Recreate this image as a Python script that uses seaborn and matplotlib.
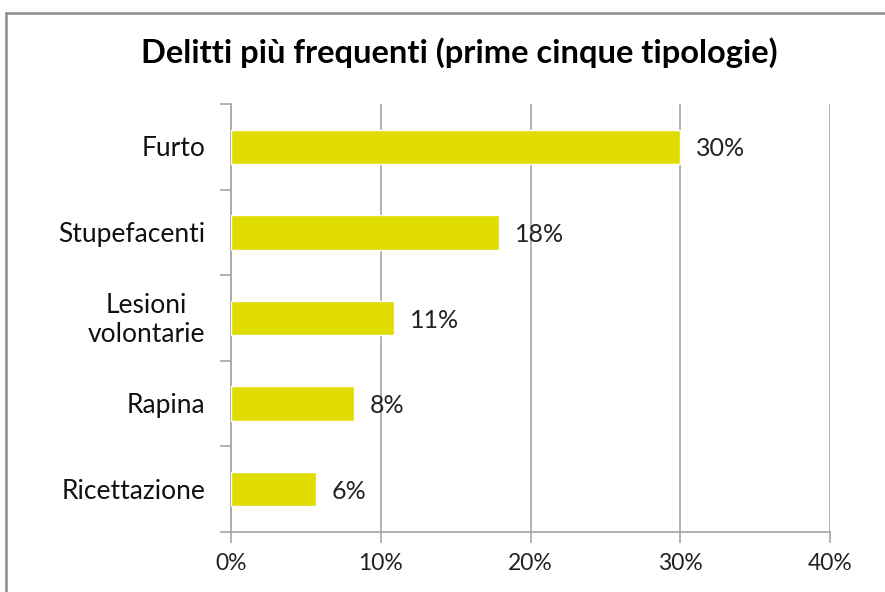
import pandas as pd
import matplotlib.pyplot as plt
import seaborn as sns
from matplotlib.lines import Line2D
from matplotlib.ticker import MultipleLocator, PercentFormatter

# data
categories = ['Furto', 'Stupefacenti', 'Lesioni\nvolontarie', 'Rapina', 'Ricettazione']
values = [30.0, 17.9, 10.9, 8.2, 5.7]
value_labels = ['30%', '18%', '11%', '8%', '6%']

df = pd.DataFrame({'cat': categories, 'val': values})

sns.set_theme(style='white')
plt.rcParams['font.family'] = ['Lato', 'DejaVu Sans']

fig = plt.figure(figsize=(8.85, 5.92), dpi=100)
ax = fig.add_axes([231 / 885, 1 - 532 / 592, 599 / 885, 428 / 592])

sns.barplot(data=df, x='val', y='cat', color='#E0DC00', width=0.4,
            saturation=1, ax=ax, zorder=3)

ax.set_xlim(0, 40)
ax.set_ylim(4.5, -0.5)
ax.xaxis.set_major_locator(MultipleLocator(10))
ax.xaxis.set_major_formatter(PercentFormatter(decimals=0))
ax.grid(axis='x', color='#A6A6A6', linewidth=1.2, zorder=0)
ax.grid(axis='y', visible=False)
ax.set_xlabel('')
ax.set_ylabel('')

for s in ['top', 'right']:
    ax.spines[s].set_visible(False)
for s in ['left', 'bottom']:
    ax.spines[s].set_color('#A6A6A6')
    ax.spines[s].set_linewidth(1.2)

# y ticks between categories, category names drawn as text
ax.set_yticks([i + 0.5 for i in range(-1, 5)])
ax.set_yticklabels([])
ax.tick_params(axis='y', left=True, length=8, width=1.2, color='#A6A6A6')
ax.tick_params(axis='x', bottom=True, length=8, width=1.2, color='#A6A6A6',
               labelsize=16.5, labelcolor='#222222', pad=7)

for i, c in enumerate(categories):
    fig_y = ax.transData.transform((0, i))[1] - 2
    ax.annotate(c, xy=(205 / 885, fig_y), xycoords=('figure fraction', 'figure pixels'),
                ha='right', va='center', multialignment='center',
                fontsize=19, color='#111111', linespacing=1.2)

for i, (v, lab) in enumerate(zip(values, value_labels)):
    ax.annotate(lab, xy=(v + 1.05, i), xytext=(0, -1.5), textcoords='offset points',
                va='center', ha='left', fontsize=18, color='#222222', zorder=4)

fig.text(459 / 885, 1 - 53 / 592, 'Delitti più frequenti (prime cinque tipologie)',
         ha='center', va='center', fontsize=23.5, fontweight='bold', color='#000000')

# chart frame
fig.add_artist(Line2D([6 / 885, 1.01], [1 - 13 / 592] * 2, color='#8C8C8C',
                      linewidth=1.8, transform=fig.transFigure))
fig.add_artist(Line2D([6 / 885] * 2, [-0.01, 1 - 13 / 592], color='#8C8C8C',
                      linewidth=1.8, transform=fig.transFigure))

fig.savefig('out.png', dpi=100)
